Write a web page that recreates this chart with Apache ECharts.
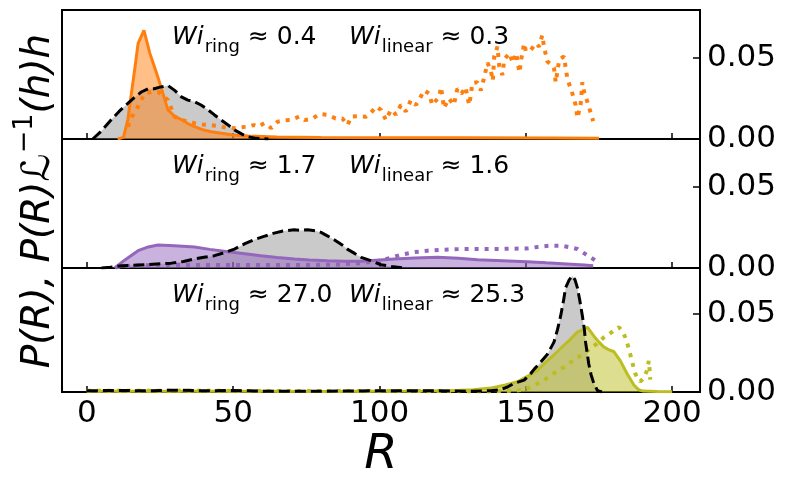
<!DOCTYPE html>
<html>
<head>
<meta charset="utf-8">
<script src="https://cdn.jsdelivr.net/npm/echarts@6/dist/echarts.min.js"></script>
<style>
  html, body { margin: 0; padding: 0; background: #fff; }
  #chart { width: 788px; height: 481px; }
</style>
</head>
<body>
<div id="chart"></div>
<script>
// x range and tick labels
const xTicks = [0, 50, 100, 150, 200]
const yTicks = [0, 0.05]

// panel labels
const wiRing = ['0.4', '1.7', '27.0']
const wiLinear = ['0.3', '1.6', '25.3']
const colors = ['#ff7f0e', '#9467bd', '#bcbd22']

// top panel
const refTop = [[2,0],[5,0.005],[8.4,0.012],[11,0.017],[14,0.022],[16.5,0.026],[18.6,0.029],[21,0.031],[23,0.031],
  [25,0.032],[27.7,0.033],[30,0.030],[32.3,0.026],[34.5,0.024],[36.8,0.023],[39,0.021],[41.4,0.018],[43.5,0.015],
  [45.9,0.0117],[48,0.009],[50.4,0.0056],[53,0.003],[55,0.0014],[58,0.0004],[62,0]]
const ringTop = [[10.5,0],[12.5,0.001],[14,0.012],[15.2,0.028],[16.5,0.045],[17.5,0.059],[19.5,0.067],[21.5,0.053],
  [23,0.045],[24.3,0.038],[26,0.028],[27.7,0.018],[30,0.014],[32.3,0.012],[34.5,0.0095],[36.8,0.0076],[40,0.0055],
  [42.5,0.0045],[46,0.0035],[50,0.0025],[55,0.0018],[65,0.0012],[80,0.001],[100,0.0008],[130,0.0008],[160,0.0006],[175,0.0004]]
const linearTop = [[14,0.0076],[15.5,0.014],[17.5,0.02],[19.7,0.028],[22,0.029],[24.3,0.029],[26,0.027],[27.7,0.024],
  [30,0.0138],[32,0.012],[34,0.011],[36.8,0.0098],[39.5,0.009],[42.5,0.0086],[45,0.008],[47.5,0.007],[50,0.0067],
  [52.5,0.0072],[55,0.0076],[57,0.0086],[58.4,0.0076],[60.7,0.0098],[63,0.0067],[65.2,0.0107],[67.5,0.0115],
  [69.8,0.0117],[72.5,0.0138],[74.4,0.0117],[77,0.0125],[79.4,0.0154],[82,0.015],[85,0.0127],[87.3,0.0127],
  [89.1,0.0086],[90.3,0.0138],[92.6,0.014],[95.4,0.0138],[97,0.016],[98.8,0.02],[100.5,0.018],[102.2,0.0117],
  [103.9,0.018],[105.6,0.015],[107.3,0.021],[109,0.017],[110.7,0.024],[112.4,0.021],[113.5,0.024],[115.2,0.03],
  [117,0.028],[118,0.021],[120.4,0.026],[121,0.032],[121.5,0.026],[122,0.019],[123.7,0.025],[125.4,0.021],
  [126.6,0.031],[128,0.028],[129.4,0.032],[130.6,0.021],[131.2,0.027],[131.7,0.0345],[133.4,0.035],[134.6,0.03],
  [135.7,0.0376],[136.9,0.047],[138,0.0425],[138.7,0.036],[139.2,0.051],[140.3,0.057],[140.9,0.045],[142,0.0395],
  [142.6,0.049],[144.4,0.053],[145.5,0.047],[146.7,0.053],[147.8,0.041],[148.4,0.049],[149.4,0.059],[150,0.054],
  [151.7,0.055],[152.3,0.056],[153.5,0.059],[154.5,0.057],[155.6,0.064],[156.2,0.057],[157.3,0.048],[158.5,0.046],
  [159.6,0.044],[160.2,0.035],[160.8,0.042],[161.4,0.049],[163,0.051],[164.2,0.037],[165.9,0.028],[167,0.021],
  [167.6,0.013],[168.7,0.021],[169.3,0.035],[169.9,0.029],[171,0.023],[172,0.017],[173,0.011]]

// middle panel
const refMid = [[5,0],[8,0.0005],[11.8,0.0014],[19.7,0.002],[28.9,0.003],[33,0.004],[36.8,0.0056],[40,0.0066],
  [43.6,0.0076],[47,0.0095],[50.4,0.0117],[54,0.015],[57.2,0.0175],[60.5,0.0195],[64,0.0215],[67,0.0228],
  [70.8,0.0236],[73,0.0232],[75.4,0.0236],[78,0.023],[80,0.022],[82,0.020],[84.5,0.0175],[87,0.0145],[89.1,0.0115],
  [91.5,0.009],[93.7,0.0066],[97,0.0045],[100.5,0.002],[104,0.001],[108,0]]
const ringMid = [[9.5,0],[13,0.005],[17.5,0.0107],[21,0.013],[24.3,0.0142],[30,0.0137],[36.8,0.013],[42,0.0115],
  [48.2,0.010],[54,0.0088],[59.5,0.0076],[65,0.0065],[70.9,0.0056],[76,0.005],[82.2,0.0045],[88,0.0042],[93.7,0.0042],
  [100,0.005],[105,0.0056],[112,0.0062],[119.8,0.0066],[127,0.006],[133.5,0.0051],[142,0.0045],[150.5,0.0039],
  [157,0.0032],[164,0.0025],[170,0.0018],[173,0.0014]]
const linearMid = [[10,0.0005],[15,0.0015],[25,0.0018],[40,0.0018],[55,0.0018],[70,0.0018],[85,0.002],[93.7,0.003],
  [100.5,0.0045],[104,0.0065],[108.4,0.0086],[112,0.0098],[116.4,0.0107],[122,0.0113],[127.8,0.0117],[133,0.0117],
  [139.2,0.0117],[145,0.0119],[150.5,0.0121],[154,0.013],[158.5,0.0138],[161.9,0.0138],[165,0.0128],[167.6,0.0117],
  [170,0.009],[172.1,0.0066],[173.8,0.0045]]

// bottom panel
const refBot = [[0,0.0008],[10,0.001],[20,0.0008],[30,0.0012],[40,0.0008],[50,0.001],[60,0.0005],[80,0.0005],
  [100,0.0008],[120,0.0008],[130,0.0005],[138,0.0008],[141.4,0.0014],[144,0.0035],[146,0.0056],[149.4,0.0076],
  [151.6,0.0117],[153,0.015],[154.5,0.018],[157.3,0.024],[159.6,0.032],[160.8,0.04],[161.9,0.049],[162.8,0.058],
  [163.6,0.067],[164.8,0.072],[165.9,0.0745],[166.8,0.072],[167.6,0.067],[168.5,0.058],[169.3,0.049],[170,0.04],
  [170.4,0.032],[171.5,0.018],[172.3,0.011],[173.2,0.0056],[174.5,0.0008],[176,0]]
const ringBot = [[0,0.0005],[20,0.0005],[40,0.0005],[60,0.0005],[80,0.0004],[100,0.0005],[115,0.0006],[124.4,0.0008],
  [132,0.0015],[138,0.0025],[143,0.0045],[147.1,0.0066],[150.5,0.010],[153.9,0.0138],[156.2,0.018],[158.5,0.022],
  [160.8,0.026],[163,0.030],[165.3,0.034],[167.6,0.0385],[169.5,0.040],[171,0.0416],[173.2,0.036],[175,0.032],
  [176.6,0.029],[178.5,0.027],[180,0.026],[182.3,0.020],[184.6,0.0117],[186.9,0.0045],[188.5,0.0015],[190,0.0006],
  [195,0.0003],[200,0.0002]]
const linearBot = [[0,0.0008],[20,0.0008],[40,0.0008],[60,0.0006],[80,0.0006],[100,0.0006],[120,0.0006],[140,0.0005],
  [146,0.0008],[149.4,0.0014],[152.5,0.004],[156.2,0.0076],[159.6,0.012],[163,0.0159],[165.3,0.019],[167.6,0.022],
  [170,0.025],[172.1,0.028],[174.3,0.031],[176.6,0.035],[179,0.038],[181.8,0.0416],[183,0.039],[184,0.035],[185,0.029],
  [185.7,0.024],[186.5,0.018],[187.4,0.0117],[188.2,0.009],[189.1,0.0066],[190.3,0.009],[191.4,0.0138],[192,0.02],
  [192.3,0.014],[192.5,0.008]]

const refs = [refTop, refMid, refBot]
const rings = [ringTop, ringMid, ringBot]
const linears = [linearTop, linearMid, linearBot]

const chart = echarts.init(document.getElementById('chart'), null, { renderer: 'canvas' })
const FONT = 'DejaVu Sans'
const panelTop = [10, 139, 268]
const panelH = 129

const grids = panelTop.map(t => ({
  left: 62, right: 88, top: t, height: panelH,
  show: true, borderColor: '#000', borderWidth: 2, backgroundColor: 'transparent'
}))

const xAxes = panelTop.map((t, i) => ({
  type: 'value', gridIndex: i, min: -8.5, max: 209.5,
  splitLine: { show: false },
  axisLine: { show: true, onZero: false, lineStyle: { color: '#000', width: 2 } },
  axisTick: { show: true, inside: true, length: 6, customValues: xTicks, lineStyle: { color: '#000', width: 1.5 } },
  axisLabel: {
    show: i === 2, customValues: xTicks, margin: 6,
    color: '#000', fontSize: 31, fontFamily: FONT
  },
  name: i === 2 ? 'R' : '',
  nameLocation: 'middle', nameGap: 40,
  nameTextStyle: { color: '#000', fontSize: 48, fontStyle: 'italic', fontFamily: FONT }
}))

const yAxes = panelTop.map((t, i) => ({
  type: 'value', gridIndex: i, position: 'right', min: 0, max: 0.0796,
  splitLine: { show: false },
  axisLine: { show: true, onZero: false, lineStyle: { color: '#000', width: 2 } },
  axisTick: { show: true, inside: true, length: 7, customValues: yTicks, lineStyle: { color: '#000', width: 1.5 } },
  axisLabel: {
    customValues: yTicks, margin: 7, color: '#000', fontSize: 31, fontFamily: FONT,
    formatter: v => v.toFixed(2)
  }
}))

const series = []
for (let i = 0; i < 3; i++) {
  // gray fill under the reference distribution
  series.push({
    type: 'line', xAxisIndex: i, yAxisIndex: i, data: refs[i], showSymbol: false, z: 1,
    lineStyle: { width: 0 }, areaStyle: { color: '#808080', opacity: 0.42 }
  })
  // ring (solid + fill)
  series.push({
    type: 'line', xAxisIndex: i, yAxisIndex: i, data: rings[i], showSymbol: false, z: 2,
    lineStyle: { color: colors[i], width: 3 }, areaStyle: { color: colors[i], opacity: 0.5 }
  })
  // linear (dotted)
  series.push({
    type: 'line', xAxisIndex: i, yAxisIndex: i, data: linears[i], showSymbol: false, z: 3,
    lineStyle: { color: colors[i], width: 4, type: [4, 6], cap: 'butt' }
  })
  // reference dashed line on top
  series.push({
    type: 'line', xAxisIndex: i, yAxisIndex: i, data: refs[i], showSymbol: false, z: 4,
    lineStyle: { color: '#000', width: 3, type: [11, 5], cap: 'butt' }
  })
}

const wiRich = {
  w: { fontSize: 25, fontStyle: 'italic', fontFamily: FONT, color: '#000', lineHeight: 25, verticalAlign: 'top' },
  s: { fontSize: 18, fontFamily: FONT, color: '#000', lineHeight: 18, padding: [13, 0, 0, 1], verticalAlign: 'top' },
  n: { fontSize: 25, fontFamily: FONT, color: '#000', lineHeight: 25, verticalAlign: 'top' }
}

const graphics = []
panelTop.forEach((t, i) => {
  graphics.push({
    type: 'text', left: 172, top: t + 15, z: 10,
    style: { text: '{w|Wi}{s|ring}{n| ≈ ' + wiRing[i] + '}', rich: wiRich }
  })
  graphics.push({
    type: 'text', left: 349, top: t + 15, z: 10,
    style: { text: '{w|Wi}{s|linear}{n| ≈ ' + wiLinear[i] + '}', rich: wiRich }
  })
})

// y label (rotated)
graphics.push({
  type: 'text', x: 31, y: 201, rotation: Math.PI / 2, z: 10,
  style: {
    text: '{a|P(R), P(R)ℒ}{b|−1}{a|(h)h}',
    align: 'center', verticalAlign: 'middle',
    rich: {
      a: { fontSize: 39, fontStyle: 'italic', fontFamily: FONT, color: '#000', lineHeight: 39, padding: [8, 0, 0, 0], verticalAlign: 'top' },
      b: { fontSize: 27, fontFamily: FONT, color: '#000', lineHeight: 27, verticalAlign: 'top' }
    }
  }
})

chart.setOption({
  animation: false,
  backgroundColor: '#fff',
  grid: grids,
  xAxis: xAxes,
  yAxis: yAxes,
  series: series,
  graphic: graphics
})
</script>
</body>
</html>
